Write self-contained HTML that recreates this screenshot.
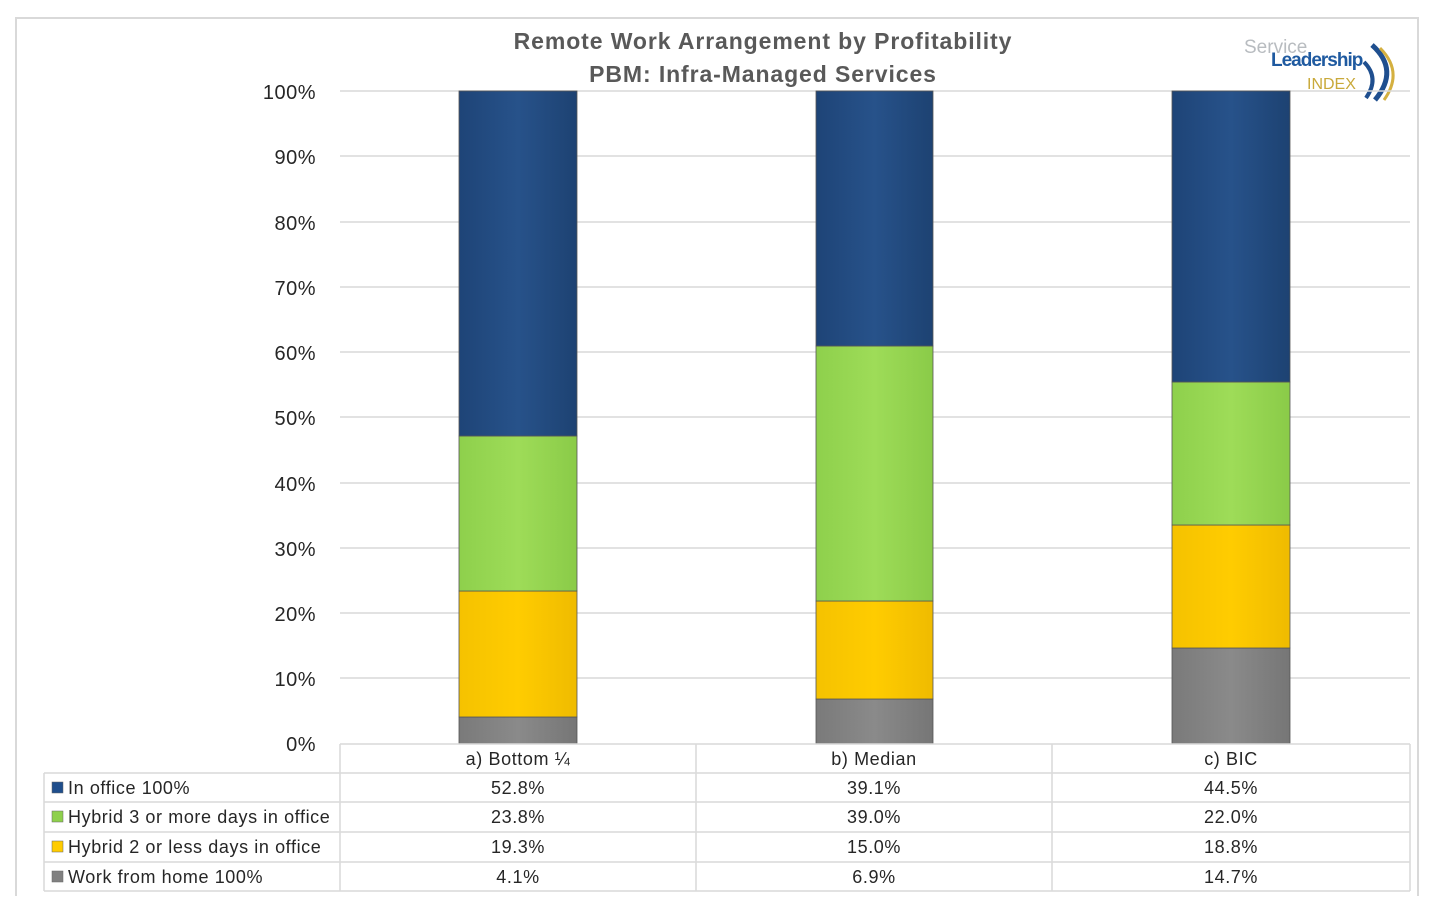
<!DOCTYPE html>
<html><head><style>
body{margin:0;background:#fff;}
svg text{font-family:"Liberation Sans",sans-serif;}
</style></head><body>
<svg width="1432" height="896" xmlns="http://www.w3.org/2000/svg">
<defs>
<linearGradient id="gb" x1="0" x2="1"><stop offset="0" stop-color="#1e4477"/><stop offset="0.5" stop-color="#27528a"/><stop offset="1" stop-color="#1d4272"/></linearGradient>
<linearGradient id="gg" x1="0" x2="1"><stop offset="0" stop-color="#8ed04c"/><stop offset="0.5" stop-color="#9edc58"/><stop offset="1" stop-color="#8acb48"/></linearGradient>
<linearGradient id="gy" x1="0" x2="1"><stop offset="0" stop-color="#f5c200"/><stop offset="0.5" stop-color="#ffcc00"/><stop offset="1" stop-color="#efbb00"/></linearGradient>
<linearGradient id="gr" x1="0" x2="1"><stop offset="0" stop-color="#7a7a7a"/><stop offset="0.5" stop-color="#8a8a8a"/><stop offset="1" stop-color="#767676"/></linearGradient>
</defs>
<rect x="16" y="18" width="1402" height="880" fill="#fff" stroke="#d9d9d9" stroke-width="2"/>
<text x="763" y="49" text-anchor="middle" font-size="23" font-weight="bold" fill="#595959" letter-spacing="0.9">Remote Work Arrangement by Profitability</text>
<text x="763" y="82" text-anchor="middle" font-size="23" font-weight="bold" fill="#595959" letter-spacing="0.9">PBM: Infra-Managed Services</text>
<text x="1244" y="53" font-size="19" fill="#b8bcc0">Service</text>
<text x="1271" y="66" font-size="19" font-weight="bold" fill="#1f5aa0" letter-spacing="-1">Leadership</text>
<text x="1307" y="89" font-size="16" fill="#c9a93a">INDEX</text>
<path d="M1372 45 Q1400 70 1375 100" stroke="#1f4f8f" stroke-width="5" fill="none"/>
<path d="M1380 48 Q1404 72 1384 100" stroke="#d4b040" stroke-width="3" fill="none"/>
<path d="M1364 62 Q1380 78 1366 98" stroke="#1f4f8f" stroke-width="4" fill="none"/>
<g stroke="#d9d9d9" stroke-width="1.5">
<line x1="340" x2="1410" y1="91" y2="91"/><line x1="340" x2="1410" y1="156" y2="156"/>
<line x1="340" x2="1410" y1="222" y2="222"/><line x1="340" x2="1410" y1="287" y2="287"/>
<line x1="340" x2="1410" y1="352" y2="352"/><line x1="340" x2="1410" y1="417" y2="417"/>
<line x1="340" x2="1410" y1="483" y2="483"/><line x1="340" x2="1410" y1="548" y2="548"/>
<line x1="340" x2="1410" y1="613" y2="613"/><line x1="340" x2="1410" y1="678" y2="678"/>
</g>
<g font-size="20" fill="#262626" text-anchor="end" letter-spacing="0.5">
<text x="316" y="99">100%</text><text x="316" y="164">90%</text><text x="316" y="230">80%</text>
<text x="316" y="295">70%</text><text x="316" y="360">60%</text><text x="316" y="425">50%</text>
<text x="316" y="491">40%</text><text x="316" y="556">30%</text><text x="316" y="621">20%</text>
<text x="316" y="686">10%</text><text x="316" y="751">0%</text>
</g>
<g stroke="#555" stroke-width="0.8">
<rect x="459" y="717" width="118" height="27" fill="url(#gr)"/>
<rect x="459" y="591" width="118" height="126" fill="url(#gy)"/>
<rect x="459" y="436" width="118" height="155" fill="url(#gg)"/>
<rect x="459" y="91" width="118" height="345" fill="url(#gb)"/>
<rect x="816" y="699" width="117" height="45" fill="url(#gr)"/>
<rect x="816" y="601" width="117" height="98" fill="url(#gy)"/>
<rect x="816" y="346" width="117" height="255" fill="url(#gg)"/>
<rect x="816" y="91" width="117" height="255" fill="url(#gb)"/>
<rect x="1172" y="648" width="118" height="96" fill="url(#gr)"/>
<rect x="1172" y="525" width="118" height="123" fill="url(#gy)"/>
<rect x="1172" y="382" width="118" height="143" fill="url(#gg)"/>
<rect x="1172" y="91" width="118" height="291" fill="url(#gb)"/>
</g>
<g stroke="#d9d9d9" stroke-width="1.5" fill="none">
<line x1="340" x2="1410" y1="744" y2="744"/>
<line x1="44" x2="1410" y1="773" y2="773"/><line x1="44" x2="1410" y1="802" y2="802"/>
<line x1="44" x2="1410" y1="832" y2="832"/><line x1="44" x2="1410" y1="862" y2="862"/>
<line x1="44" x2="1410" y1="891" y2="891"/>
<line x1="44" x2="44" y1="773" y2="891"/><line x1="340" x2="340" y1="744" y2="891"/>
<line x1="696" x2="696" y1="744" y2="891"/><line x1="1052" x2="1052" y1="744" y2="891"/>
<line x1="1410" x2="1410" y1="744" y2="891"/>
</g>
<g font-size="18" fill="#262626" letter-spacing="0.6">
<text x="518" y="765" text-anchor="middle">a) Bottom ¼</text>
<text x="874" y="765" text-anchor="middle">b) Median</text>
<text x="1231" y="765" text-anchor="middle">c) BIC</text>
<rect x="52" y="782" width="11" height="11" fill="#1f4e8c" stroke="#666" stroke-width="0.5"/>
<rect x="52" y="811" width="11" height="11" fill="#8ed04c" stroke="#666" stroke-width="0.5"/>
<rect x="52" y="841" width="11" height="11" fill="#ffcc00" stroke="#666" stroke-width="0.5"/>
<rect x="52" y="871" width="11" height="11" fill="#808080" stroke="#666" stroke-width="0.5"/>
<text x="68" y="794">In office 100%</text>
<text x="68" y="823">Hybrid 3 or more days in office</text>
<text x="68" y="853">Hybrid 2 or less days in office</text>
<text x="68" y="883">Work from home 100%</text>
<g text-anchor="middle">
<text x="518" y="794">52.8%</text><text x="874" y="794">39.1%</text><text x="1231" y="794">44.5%</text>
<text x="518" y="823">23.8%</text><text x="874" y="823">39.0%</text><text x="1231" y="823">22.0%</text>
<text x="518" y="853">19.3%</text><text x="874" y="853">15.0%</text><text x="1231" y="853">18.8%</text>
<text x="518" y="883">4.1%</text><text x="874" y="883">6.9%</text><text x="1231" y="883">14.7%</text>
</g>
</g>
</svg>
</body></html>
